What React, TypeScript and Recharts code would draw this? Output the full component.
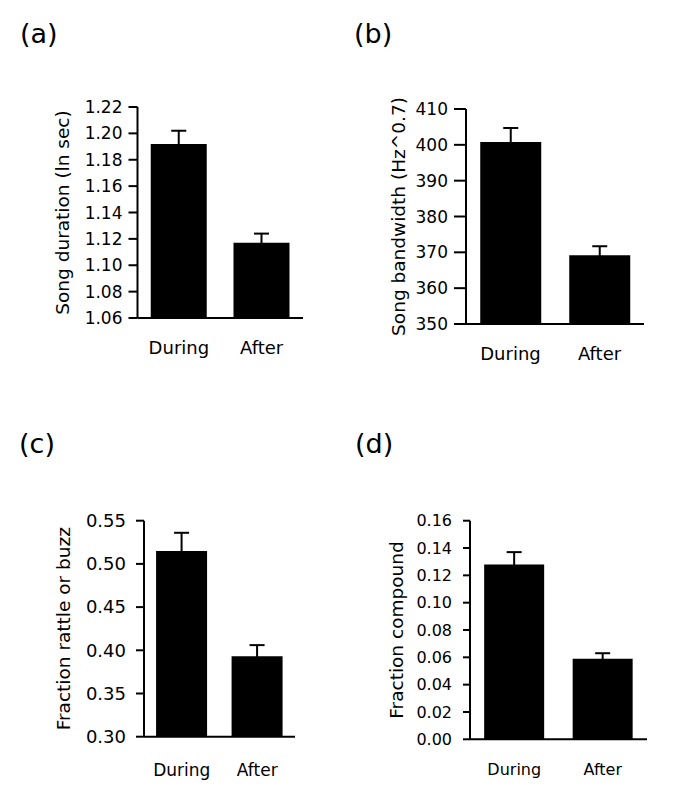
import { BarChart, Bar, XAxis, YAxis, ErrorBar, Label } from 'recharts';

const categories = ['During', 'After'];
const edgeTicks = [0, 1, 2];

const durationMeans = [1.192, 1.117];
const durationErrors = [0.01, 0.007];
const durationTicks = [1.06, 1.08, 1.1, 1.12, 1.14, 1.16, 1.18, 1.2, 1.22];

const bandwidthMeans = [400.8, 369.2];
const bandwidthErrors = [3.9, 2.5];
const bandwidthTicks = [350, 360, 370, 380, 390, 400, 410];

const rattleMeans = [0.515, 0.393];
const rattleErrors = [0.021, 0.013];
const rattleTicks = [0.3, 0.35, 0.4, 0.45, 0.5, 0.55];

const compoundMeans = [0.128, 0.059];
const compoundErrors = [0.009, 0.004];
const compoundTicks = [0, 0.02, 0.04, 0.06, 0.08, 0.1, 0.12, 0.14, 0.16];

const FONT = '"DejaVu Sans", Verdana, sans-serif';
const Y_WIDTH = 80;
const stroke = { stroke: '#000', strokeWidth: 2 };

function toRows(means: number[], errors: number[]) {
  return categories.map((name, i) => ({ name, mean: means[i], err: errors[i] }));
}

interface PanelProps {
  letter: string;
  letterPos: [number, number];
  title: string;
  titleX: number;
  rows: { name: string; mean: number; err: number }[];
  ticks: number[];
  decimals: number;
  box: [number, number, number, number];
  plot: { x0: number; x1: number; y0: number; y1: number };
  tickFont: number;
  catFont: number;
  catMargin: number;
  ySize: number;
  yMargin: number;
}

function Panel(p: PanelProps) {
  const [left, top, width, height] = p.box;
  // both x axes are 1px tall so they sit on the plot's bottom edge
  const margin = {
    top: p.plot.y0 - top,
    right: left + width - p.plot.x1,
    bottom: top + height - p.plot.y1 - 2,
    left: p.plot.x0 - left - Y_WIDTH,
  };
  const cx = p.titleX - left;
  const cy = (p.plot.y0 + p.plot.y1) / 2 - top;

  return (
    <>
      <div
        style={{
          position: 'absolute',
          left: p.letterPos[0],
          top: p.letterPos[1] - 23,
          fontFamily: FONT,
          fontSize: 27,
          lineHeight: '27px',
          color: '#000',
        }}
      >
        {p.letter}
      </div>
      <div style={{ position: 'absolute', left, top }}>
        <BarChart width={width} height={height} data={p.rows} margin={margin} barCategoryGap="16%">
          <XAxis
            xAxisId="a"
            type="number"
            domain={[0, 2]}
            ticks={edgeTicks}
            tick={false}
            height={1}
            tickSize={7}
            axisLine={stroke}
            tickLine={stroke}
            allowDataOverflow
          />
          <XAxis
            xAxisId="b"
            dataKey="name"
            height={1}
            tickSize={0}
            tickMargin={p.catMargin}
            axisLine={false}
            tickLine={false}
            interval={0}
            tick={{ fill: '#000', fontSize: p.catFont, fontFamily: FONT }}
          />
          <YAxis
            width={Y_WIDTH}
            domain={[p.ticks[0], p.ticks[p.ticks.length - 1]]}
            ticks={p.ticks}
            interval={0}
            allowDataOverflow
            tickFormatter={(v: number) => v.toFixed(p.decimals)}
            tickSize={p.ySize}
            tickMargin={p.yMargin}
            axisLine={stroke}
            tickLine={stroke}
            tick={{ fill: '#000', fontSize: p.tickFont, fontFamily: FONT }}
          >
            <Label
              content={() => (
                <text
                  x={cx}
                  y={cy}
                  transform={`rotate(-90 ${cx} ${cy})`}
                  textAnchor="middle"
                  dominantBaseline="central"
                  fontFamily={FONT}
                  fontSize={18.5}
                  fill="#000"
                >
                  {p.title}
                </text>
              )}
            />
          </YAxis>
          <Bar xAxisId="b" dataKey="mean" fill="#000" isAnimationActive={false}>
            <ErrorBar dataKey="err" width={7.5} stroke="#000" strokeWidth={2} isAnimationActive={false} />
          </Bar>
        </BarChart>
      </div>
    </>
  );
}

export default function App() {
  return (
    <div style={{ position: 'absolute', left: 0, top: 0, width: 673, height: 792, background: '#fff' }}>
      <Panel
        letter="(a)"
        letterPos={[20, 43]}
        title="Song duration (ln sec)"
        titleX={62.5}
        rows={toRows(durationMeans, durationErrors)}
        ticks={durationTicks}
        decimals={2}
        box={[0, 0, 336, 395]}
        plot={{ x0: 137.5, x1: 303, y0: 107, y1: 318 }}
        tickFont={17}
        catFont={18}
        catMargin={22}
        ySize={9}
        yMargin={6}
      />
      <Panel
        letter="(b)"
        letterPos={[354, 43]}
        title="Song bandwidth (Hz^0.7)"
        titleX={398}
        rows={toRows(bandwidthMeans, bandwidthErrors)}
        ticks={bandwidthTicks}
        decimals={0}
        box={[336, 0, 337, 395]}
        plot={{ x0: 466, x1: 644, y0: 109, y1: 324 }}
        tickFont={17}
        catFont={18}
        catMargin={22}
        ySize={12}
        yMargin={6}
      />
      <Panel
        letter="(c)"
        letterPos={[19, 453]}
        title="Fraction rattle or buzz"
        titleX={63.5}
        rows={toRows(rattleMeans, rattleErrors)}
        ticks={rattleTicks}
        decimals={2}
        box={[0, 395, 336, 397]}
        plot={{ x0: 144, x1: 295, y0: 520.7, y1: 736.7 }}
        tickFont={18}
        catFont={17}
        catMargin={26}
        ySize={8}
        yMargin={10}
      />
      <Panel
        letter="(d)"
        letterPos={[355, 453]}
        title="Fraction compound"
        titleX={396.5}
        rows={toRows(compoundMeans, compoundErrors)}
        ticks={compoundTicks}
        decimals={2}
        box={[336, 395, 337, 397]}
        plot={{ x0: 470, x1: 647, y0: 520.7, y1: 739.3 }}
        tickFont={16}
        catFont={16}
        catMargin={23}
        ySize={7}
        yMargin={11}
      />
    </div>
  );
}
